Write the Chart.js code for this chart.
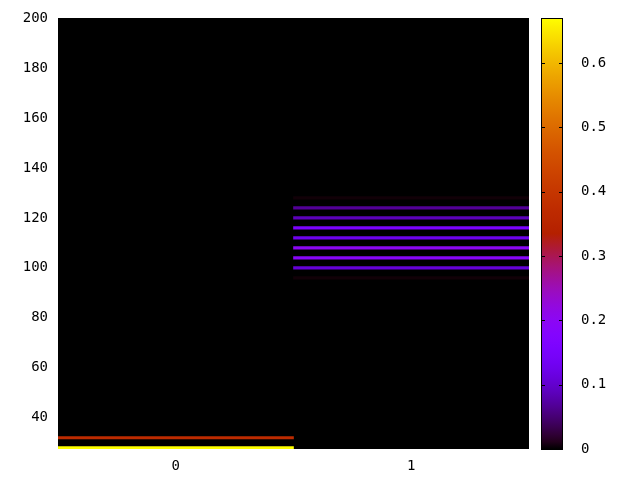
<!DOCTYPE html>
<html>
<head>
<meta charset="utf-8">
<script src="https://cdn.jsdelivr.net/npm/chart.js@4.4.0/dist/chart.umd.min.js"></script>
<style>
  body { margin: 0; background: #fff; }
  #wrap { width: 640px; height: 480px; }
</style>
</head>
<body>
<div id="wrap"><canvas id="heat" width="640" height="480"></canvas></div>
<script>
const columns = ['0', '1'];
const col0Rows = [28, 32];
const col0Values = [0.67, 0.37];
const col1Rows = [96, 100, 104, 108, 112, 116, 120, 124, 128];
const col1Values = [0.003, 0.107, 0.19, 0.2, 0.127, 0.16, 0.087, 0.067, 0.003];
const yTicks = [40, 60, 80, 100, 120, 140, 160, 180, 200];
const cbTicks = [0, 0.1, 0.2, 0.3, 0.4, 0.5, 0.6];
const yMin = 27.5, yMax = 200;
const cbMax = 0.67;

// gnuplot default palette (rgbformulae 7,5,15)
function palette(v) {
    const x = Math.min(Math.max(v / cbMax, 0), 1);
    const r = Math.sqrt(x);
    const g = x * x * x;
    const b = Math.max(Math.sin(2 * Math.PI * x), 0);
    return `rgb(${Math.round(r * 255)},${Math.round(g * 255)},${Math.round(b * 255)})`;
}

function cellDatasets(col, rows, values) {
    return rows.map((row, i) => ({
        data: [{ x: col, y: [row - 0.5, row + 0.5] }],
        backgroundColor: palette(values[i]),
        borderWidth: 0,
        grouped: false,
        barPercentage: 1,
        categoryPercentage: 1
    }));
}

const datasets = [
    ...cellDatasets(columns[0], col0Rows, col0Values),
    ...cellDatasets(columns[1], col1Rows, col1Values)
];

// fixed axis sizes so the plot box lands where gnuplot put it
function fixBox(size) {
    return axis => {
        if (axis.isHorizontal()) axis.height = size;
        else axis.width = size;
        axis.paddingTop = 0;
        axis.paddingBottom = 0;
        axis.paddingLeft = 0;
        axis.paddingRight = 0;
    };
}

const plotBackground = {
    id: 'plotBackground',
    beforeDatasetsDraw(chart) {
        const a = chart.chartArea;
        const ctx = chart.ctx;
        ctx.save();
        ctx.fillStyle = palette(0);
        ctx.fillRect(a.left, a.top, a.right - a.left, a.bottom - a.top);
        ctx.restore();
    }
};

const colorBox = {
    id: 'colorBox',
    afterDraw(chart) {
        const cb = chart.scales.cb;
        const ctx = chart.ctx;
        const x0 = chart.chartArea.right + 12;
        const w = 22;
        const top = cb.getPixelForValue(cbMax);
        const bottom = cb.getPixelForValue(0);
        const grad = ctx.createLinearGradient(0, bottom, 0, top);
        for (let i = 0; i <= 60; i++) {
            grad.addColorStop(i / 60, palette(cbMax * i / 60));
        }
        ctx.save();
        ctx.fillStyle = grad;
        ctx.fillRect(x0, top, w, bottom - top);
        ctx.strokeStyle = '#000';
        ctx.lineWidth = 1;
        ctx.strokeRect(x0 + 0.5, top + 0.5, w - 1, bottom - top);
        ctx.beginPath();
        cb.ticks.forEach(t => {
            const y = Math.round(cb.getPixelForValue(t.value)) + 0.5;
            ctx.moveTo(x0, y);
            ctx.lineTo(x0 + 4, y);
            ctx.moveTo(x0 + w - 4, y);
            ctx.lineTo(x0 + w, y);
        });
        ctx.stroke();
        ctx.restore();
    }
};

Chart.defaults.color = '#000';
Chart.defaults.font.family = '"DejaVu Sans Mono", monospace';
Chart.defaults.font.size = 14;

new Chart(document.getElementById('heat').getContext('2d'), {
    type: 'bar',
    data: { labels: columns, datasets: datasets },
    options: {
        responsive: false,
        animation: false,
        layout: { padding: { top: 18, left: 0, right: 0, bottom: 0 } },
        plugins: { legend: { display: false }, tooltip: { enabled: false } },
        scales: {
            x: {
                type: 'category',
                offset: true,
                grid: { display: false, drawTicks: false },
                border: { display: false },
                ticks: { padding: 9, maxRotation: 0 },
                afterFit: fixBox(31)
            },
            y: {
                type: 'linear',
                min: yMin,
                max: yMax,
                grid: { display: false, drawTicks: false },
                border: { display: false },
                ticks: { padding: 10, callback: v => String(v) },
                afterBuildTicks: axis => { axis.ticks = yTicks.map(v => ({ value: v })); },
                afterFit: fixBox(58)
            },
            cb: {
                type: 'linear',
                position: 'right',
                min: 0,
                max: cbMax,
                grid: { display: false, drawTicks: false },
                border: { display: false },
                ticks: { padding: 52, callback: v => String(v) },
                afterBuildTicks: axis => { axis.ticks = cbTicks.map(v => ({ value: v })); },
                afterFit: fixBox(111)
            }
        }
    },
    plugins: [plotBackground, colorBox]
});
</script>
</body>
</html>
